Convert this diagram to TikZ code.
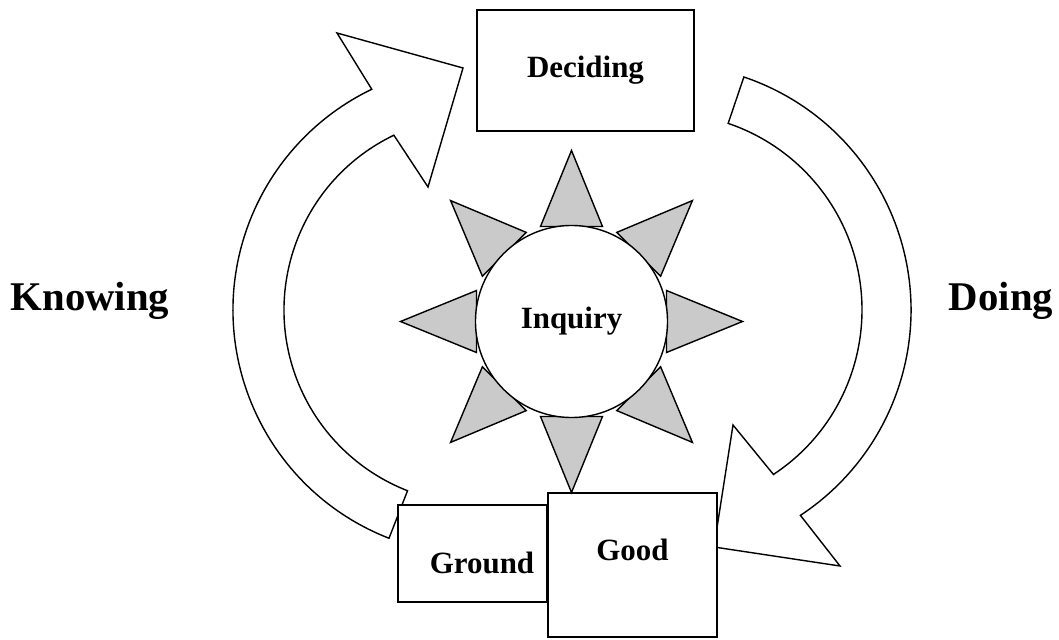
\documentclass[tikz,border=0pt]{standalone}
\usepackage{fontspec}
\setmainfont{Liberation Serif}
\usetikzlibrary{calc}
\definecolor{raygray}{RGB}{202,202,202}

\begin{document}
\begin{tikzpicture}[x=0.025cm, y=0.025cm, line width=1pt,
    band/.style={draw, fill=white, line join=miter},
    ray/.style={draw, fill=raygray, line join=miter},
    box/.style={draw, fill=white, rectangle, inner sep=0pt},
    lbl/.style={font=\fontsize{22}{26}\selectfont\bfseries},
    side/.style={font=\fontsize{29}{34}\selectfont\bfseries}]
    \useasboundingbox (0,0) rectangle (1059,639);
    \coordinate (lc) at (478,329);
    \coordinate (rc) at (665,329);
    \draw[band] ($(lc)+(248.7:245)$) arc[start angle=248.7, end angle=115.7, radius=245]
        -- (337,606) -- (463,571) -- (428,452)
        -- ($(lc)+(115.7:194)$) arc[start angle=115.7, end angle=248.7, radius=194] -- cycle;
    \draw[band] ($(rc)+(71.3:246)$) arc[start angle=71.3, end angle=-56.6, radius=246]
        -- (840,73) -- (714,92) -- (733,214)
        -- ($(rc)+(-56.6:197)$) arc[start angle=-56.6, end angle=71.3, radius=197] -- cycle;
    \node[box, minimum width=5.425cm, minimum height=3.025cm, lbl] (deciding) at (585.5,568.5) {Deciding};
    \node[box, minimum width=3.725cm, minimum height=2.425cm] (ground) at (472.5,85.5) {};
    \node[lbl] (groundtxt) at ($(ground.center)+(9.5,-9.5)$) {Ground};
    \node[box, minimum width=4.225cm, minimum height=3.6cm] (good) at (632.5,74) {};
    \node[lbl] (goodtxt) at ($(good.center)+(0,15)$) {Good};
    \coordinate (sun) at (571.5,317.5);
    \foreach \a in {0,45,...,315}
        \draw[ray, shift={(sun)}, rotate=\a] (95,-31) -- (171,0) -- (95,31) -- cycle;
    \node[draw, fill=white, circle, minimum size=4.8cm, inner sep=0pt, lbl] (inquiry) at (sun) {Inquiry};
    \node[side] (knowing) at (90,338) {Knowing};
    \node[side] (doing) at (1001,338) {Doing};
\end{tikzpicture}
\end{document}
